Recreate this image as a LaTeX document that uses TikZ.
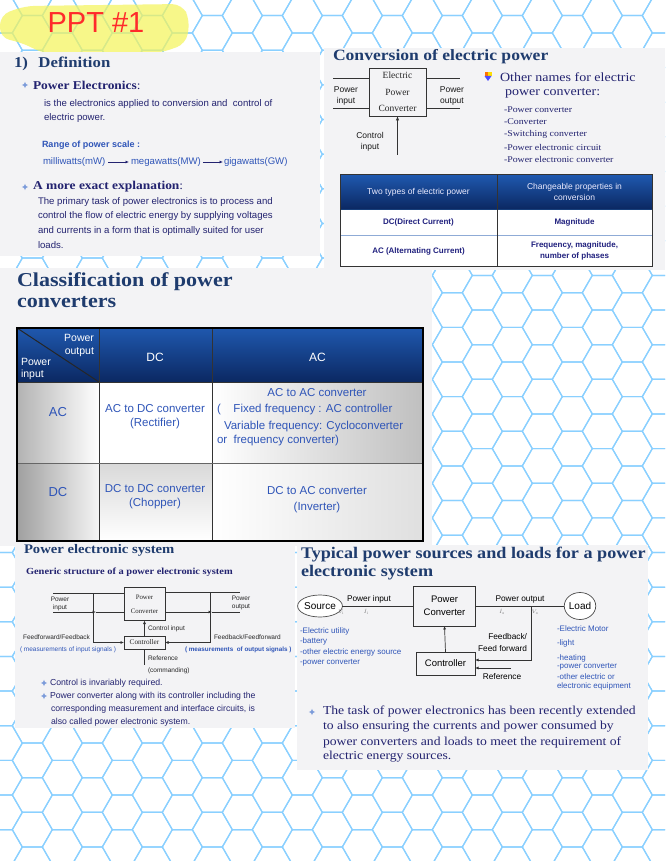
\documentclass[tikz,border=0pt]{standalone}
\usepackage{fontspec}
\setmainfont{Liberation Serif}
\newfontfamily\ars{Liberation Sans}
\newfontfamily\ttl[FakeStretch=1.12]{Liberation Serif}
\usetikzlibrary{arrows.meta,shapes.geometric,calc}
\definecolor{hexc}{HTML}{8AD0FF}
\definecolor{panelc}{HTML}{F3F3F5}
\definecolor{navyT}{HTML}{1F3C6E}
\definecolor{navyD}{HTML}{232370}
\definecolor{blueT}{HTML}{2F55B8}
\definecolor{hdrTop}{HTML}{1F58AE}
\definecolor{hdrBot}{HTML}{0B2862}
\definecolor{bulc}{HTML}{7B9BDA}
\definecolor{redT}{HTML}{FF2B2B}
\definecolor{hlc}{HTML}{F4F45C}
\definecolor{wirec}{HTML}{333333}
\newcommand\fz[2]{\fontsize{#1}{#2}\selectfont}
\begin{document}
\begin{tikzpicture}[x=1pt,y=-1pt,
  every node/.style={inner sep=0pt,outer sep=0pt},
  hexl/.style={draw=hexc,line width=1.2pt},
  panel/.style={fill=panelc},
  wire/.style={draw=wirec,line width=0.9pt},
  arr/.style={wire,-{Latex[length=4.5pt,width=3.5pt]}},
  sarr/.style={wire,line width=0.7pt,-{Latex[length=3.5pt,width=3pt]}},
  bx/.style={draw=wirec,line width=0.9pt},
  bul/.pic={\fill[bulc] (0,-3.2) -- (0.9,-0.9) -- (3.2,0) -- (0.9,0.9) -- (0,3.2) -- (-0.9,0.9) -- (-3.2,0) -- (-0.9,-0.9) -- cycle;},
  hdr/.style={top color=hdrTop,bottom color=hdrBot},
  grid/.style={draw=black!80,line width=1pt},
  bodyS/.style={font=\ars\fz{9.6}{9.6},text=navyD,anchor=west},
  cls/.style={font=\ars\fz{11.5}{11.5},text=blueT},
  tiny/.style={font=\ars\fz{6.5}{6.5},text=black!85},
  lst/.style={anchor=west,font=\ttl\fz{8.8}{8.8},text=navyD},
  par/.style={anchor=west,font=\ttl\fz{12.2}{12.2},text=navyD}
]
\useasboundingbox (0,0) rectangle (665,861);
\fill[white] (0,0) rectangle (665,861);
% honeycomb background
\begin{scope}
\clip (0,0) rectangle (665,861);
\foreach \i in {0,...,23}{
  \foreach \j in {-1,...,25}{
    \pgfmathsetmacro\cx{2.3+30*\i}
    \pgfmathsetmacro\cy{(isodd(\i)?-1.72:15.6)+34.64*\j}
    \draw[hexl] (\cx+20,\cy) -- (\cx+10,\cy+17.32) -- (\cx-10,\cy+17.32) -- (\cx-20,\cy) -- (\cx-10,\cy-17.32) -- (\cx+10,\cy-17.32) -- cycle;
  }
}
\end{scope}
% highlight and handwriting
\fill[hlc,opacity=0.72,rounded corners=10pt] (0,15) -- (25,6) -- (182,4) -- (190,20) -- (186,44) -- (160,53) -- (45,54) -- (20,42) -- (0,38) -- cycle;
\node[text=redT,font=\ars\fz{29}{29}] (ppt) at (96,23) {PPT \#1};
% panels
\fill[panel] (0,52) rectangle (320,256);
\fill[panel] (324,48) rectangle (665,270);
\fill[panel] (0,268) rectangle (432,546);
\fill[panel] (15,543) rectangle (295,728);
\fill[panel] (297,545) rectangle (648,770);

% ---------------- Definition
\node[anchor=west,font=\ttl\bfseries\fz{15}{15},text=navyT] (defh) at (14,64) {1)\hspace{0.7em}Definition};
\pic at (25,85) {bul};
\node[anchor=west,font=\ttl\bfseries\fz{12}{12},text=navyD] (pe) at (33,85) {Power Electronics\mdseries:};
\node[bodyS] (d1) at (44,104) {is the electronics applied to conversion and\ \ control of};
\node[bodyS] (d2) at (44,118) {electric power.};
\node[anchor=west,font=\ars\bfseries\fz{9}{9},text=blueT] (rng) at (42,145) {Range of power scale :};
\node[bodyS,text=blueT] (mw) at (43,162) {milliwatts(mW)};
\node[bodyS,text=blueT] (MW) at (131,162) {megawatts(MW)};
\node[bodyS,text=blueT] (GW) at (224,162) {gigawatts(GW)};
\draw[sarr,draw=navyD] ([xshift=3pt]mw.east) -- ([xshift=-2pt]MW.west);
\draw[sarr,draw=navyD] ([xshift=2pt]MW.east) -- ([xshift=-1pt]GW.west);
\pic at (25,187) {bul};
\node[anchor=west,font=\ttl\bfseries\fz{12}{12},text=navyD] (mx) at (33,187) {A more exact explanation\mdseries:};
\node[bodyS] (e1) at (38,202) {The primary task of power electronics is to process and};
\node[bodyS] (e2) at (38,216.5) {control the flow of electric energy by supplying voltages};
\node[bodyS] (e3) at (38,231) {and currents in a form that is optimally suited for user};
\node[bodyS] (e4) at (38,245.5) {loads.};

% ---------------- Conversion of electric power
\node[anchor=west,font=\ttl\bfseries\fz{15.7}{15.7},text=navyT] (convh) at (333,57) {Conversion of electric power};
\node[bx,minimum width=57pt,minimum height=48pt,align=center,font=\fz{9.5}{16.5},text=black!85] (epc) at (397.5,92) {Electric\\Power\\Converter};
\coordinate (inT) at (333,78); \coordinate (inB) at (333,108);
\coordinate (outT) at (460,78); \coordinate (outB) at (460,108);
\draw[wire] (inT) -- (inT -| epc.west);
\draw[wire] (inB) -- (inB -| epc.west);
\draw[wire] (epc.east |- outT) -- (outT);
\draw[wire] (epc.east |- outB) -- (outB);
\coordinate (ctlIn) at (397.5,155);
\draw[arr] (ctlIn) -- (epc.south);
\node[align=center,font=\ars\fz{8.5}{11},text=black!90] (pin) at (346,95.5) {Power\\input};
\node[align=center,font=\ars\fz{8.5}{11},text=black!90] (pout) at (452,95.5) {Power\\output};
\node[align=center,font=\ars\fz{8.5}{11},text=black!90] (cin) at (370,141.5) {Control\\input};
% coloured bullet icon
\fill[orange!90!red] (484.5,72.5) rectangle (488,76);
\fill[yellow!80!orange] (488,72.5) rectangle (491.5,76);
\fill[blue!70] (484.5,76) -- (491.5,76) -- (488,81) -- cycle;
\node[anchor=west,font=\ttl\fz{12.5}{12.5},text=navyD] (on1) at (500,77) {Other names for electric};
\node[anchor=west,font=\ttl\fz{12.5}{12.5},text=navyD] (on2) at (505,93) {power converter:};
\node[lst] (l1) at (504,110) {-Power converter};
\node[lst] (l2) at (504,122) {-Converter};
\node[lst] (l3) at (504,134.5) {-Switching converter};
\node[lst] (l4) at (504,147) {-Power electronic circuit};
\node[lst] (l5) at (504,159) {-Power electronic converter};
% two types table
\shade[hdr] (340,175) rectangle (652,209);
\fill[white] (340,209) rectangle (652,266);
\draw[draw=hdrTop!70!black,line width=0.8pt] (340,209) -- (652,209);
\draw[draw=hdrTop!50,line width=0.8pt] (340,235) -- (652,235);
\draw[grid] (497,175) -- (497,266);
\draw[grid] (340,175) rectangle (652,266);
\node[font=\ars\fz{8.5}{8.5},text=white!92!blue] (th1) at (418.5,192) {Two types of electric power};
\node[align=center,font=\ars\fz{8.5}{11},text=white!92!blue] (th2) at (574.5,192) {Changeable properties in\\conversion};
\node[font=\ars\bfseries\fz{8}{8},text=navyD!90!blue] (tc1) at (418.5,222) {DC(Direct Current)};
\node[font=\ars\bfseries\fz{8}{8},text=navyD!90!blue] (tc2) at (574.5,222) {Magnitude};
\node[font=\ars\bfseries\fz{8}{8},text=navyD!90!blue] (tc3) at (418.5,251) {AC (Alternating Current)};
\node[align=center,font=\ars\bfseries\fz{8}{10.5},text=navyD!90!blue] (tc4) at (574.5,251) {Frequency, magnitude,\\number of phases};

% ---------------- Classification
\node[anchor=west,font=\ttl\bfseries\fz{19.7}{19.7},text=navyT] (clh1) at (17,282) {Classification of power};
\node[anchor=west,font=\ttl\bfseries\fz{19.7}{19.7},text=navyT] (clh2) at (17,302) {converters};
\shade[hdr] (17,328) rectangle (423,382);
\fill[white] (17,382) rectangle (423,541);
\shade[left color=gray!60,right color=white] (17,382) rectangle (99,463);
\shade[left color=gray!75,right color=gray!8] (17,463) rectangle (99,541);
\shade[left color=white,right color=gray!50] (212,382) rectangle (423,463);
\shade[top color=gray!30,bottom color=white] (99,463) rectangle (212,541);
\shade[left color=white,right color=gray!25] (212,463) rectangle (423,541);
\draw[grid] (99,328) -- (99,541);
\draw[grid] (212,328) -- (212,541);
\draw[grid,draw=black!60] (17,463) -- (423,463);
\draw[grid] (17,382) -- (423,382);
\draw[grid,draw=black!85] (17,328) -- (99,382);
\draw[grid,line width=1.6pt,draw=black] (17,328) rectangle (423,541);
\node[anchor=east,font=\ars\fz{10.5}{10.5},text=white] (ch1) at (94,338) {Power};
\node[anchor=east,font=\ars\fz{10.5}{10.5},text=white] (ch2) at (94,352) {output};
\node[anchor=west,font=\ars\fz{10.5}{10.5},text=white] (ch3) at (21,362) {Power};
\node[anchor=west,font=\ars\fz{10.5}{10.5},text=white] (ch4) at (21,375) {input};
\node[font=\ars\fz{12}{12},text=white] (hdc) at (155,357) {DC};
\node[font=\ars\fz{12}{12},text=white] (hac) at (317.5,357) {AC};
\node[cls,font=\ars\fz{13}{13}] (rac) at (58,412) {AC};
\node[cls] (c11a) at (155,409) {AC to DC converter};
\node[cls] (c11b) at (155,424) {(Rectifier)};
\node[cls] (c12a) at (317,393) {AC to AC converter};
\node[cls,anchor=west] (c12b) at (217,410) {(\hspace{1.1em}Fixed frequency : AC controller};
\node[cls,anchor=west] (c12c) at (224,427) {Variable frequency: Cycloconverter};
\node[cls,anchor=west] (c12d) at (217,441) {or\ \ frequency converter)};
\node[cls,font=\ars\fz{13}{13}] (rdc) at (58,492) {DC};
\node[cls] (c21a) at (155,489) {DC to DC converter};
\node[cls] (c21b) at (155,504) {(Chopper)};
\node[cls] (c22a) at (317,491) {DC to AC converter};
\node[cls] (c22b) at (317,508) {(Inverter)};

% ---------------- Power electronic system
\node[anchor=west,font=\ttl\bfseries\fz{13.1}{13.1},text=navyT] (pesh) at (24,550) {Power electronic system};
\node[anchor=west,font=\ttl\bfseries\fz{9.3}{9.3},text=navyD] (gen) at (26,572) {Generic structure of a power electronic system};
\node[bx,line width=0.7pt,minimum width=41pt,minimum height=33pt,align=center,font=\fz{6.8}{14},text=black!85] (pc1) at (144.5,604) {Power\\Converter};
\node[bx,line width=0.7pt,minimum width=41pt,minimum height=13pt,font=\fz{7.2}{7.2},text=black!85] (ctl1) at (144.5,642.5) {Controller};
\coordinate (pinT) at (53,593); \coordinate (pinB) at (53,612);
\coordinate (poT) at (240,592); \coordinate (poB) at (240,612);
\coordinate (jLB) at (96,612); \coordinate (jRB) at (212,612);
\coordinate (fbL) at (93,593); \coordinate (fbR) at (210,592);
\coordinate (refP) at (144.5,665);
\draw[wire,line width=0.7pt] (pinT) -- (pinT -| pc1.west);
\draw[sarr] (pinB) -- (jLB);
\draw[wire,line width=0.7pt] (jLB) -- (jLB -| pc1.west);
\draw[wire,line width=0.7pt] (pc1.east |- poT) -- (poT);
\draw[sarr] (pc1.east |- poB) -- (jRB);
\draw[wire,line width=0.7pt] (jRB) -- (poB);
\draw[sarr] (fbL) |- (ctl1.west);
\draw[sarr] (fbR) |- (ctl1.east);
\draw[sarr] (ctl1.north) -- (pc1.south);
\draw[wire,line width=0.7pt] (ctl1.south) -- (refP);
\node[align=center,tiny] (pes1) at (60,604) {Power\\[1pt]input};
\node[align=center,tiny] (pes2) at (241,603) {Power\\[1pt]output};
\node[anchor=west,tiny] (pes3) at (148,629) {Control input};
\node[anchor=east,tiny] (pes4) at (90,637) {Feedforward/Feedback};
\node[anchor=west,tiny,text=blueT] (pes5) at (20,650) {( measurements of input signals )};
\node[anchor=west,tiny] (pes6) at (214,637) {Feedback/Feedforward};
\node[anchor=west,tiny,font=\ars\bfseries\fz{6.3}{6.3},text=blueT] (pes7) at (185,650) {( measurements\ \ of output signals )};
\node[anchor=west,tiny] (pes8) at (148,658) {Reference};
\node[anchor=west,tiny] (pes9) at (148,671) {(commanding)};
\pic at (44,683) {bul};
\node[bodyS,font=\ars\fz{8.7}{8.7}] (b1) at (50,683) {Control is invariably required.};
\pic at (44,696) {bul};
\node[bodyS,font=\ars\fz{8.7}{8.7}] (b2) at (50,696) {Power converter along with its controller including the};
\node[bodyS,font=\ars\fz{8.7}{8.7}] (b3) at (51,709.5) {corresponding measurement and interface circuits, is};
\node[bodyS,font=\ars\fz{8.7}{8.7}] (b4) at (51,722) {also called power electronic system.};

% ---------------- Typical power sources and loads
\node[anchor=west,font=\ttl\bfseries\fz{16.2}{16.2},text=navyT] (tph1) at (301,555) {Typical power sources and loads for a power};
\node[anchor=west,font=\ttl\bfseries\fz{16.2}{16.2},text=navyT] (tph2) at (301,573) {electronic system};
\node[draw=black!70,line width=0.7pt,ellipse,fill=white,minimum width=38pt,minimum height=22pt,font=\ars\fz{10}{10}] (src) at (320,606) {Source};
\node[draw=black!70,line width=0.7pt,ellipse,fill=white,minimum width=31pt,minimum height=27pt,font=\ars\fz{10}{10}] (load) at (580,606) {Load};
\node[bx,minimum width=62pt,minimum height=40pt,align=center,font=\ars\fz{9.5}{13}] (pc2) at (444.5,606) {Power\\Converter};
\node[bx,minimum width=59pt,minimum height=23pt,font=\ars\fz{9.5}{9.5}] (ctl2) at (445.5,663.5) {Controller};
\draw[wire] (src.east) -- (pc2.west);
\draw[wire] (pc2.east) -- (load.west);
\coordinate (fbj) at (531,606);
\coordinate (refS) at (511,668);
\draw[sarr] (fbj) |- ($(ctl2.east)+(0,-3.5)$);
\draw[sarr] (refS) -- (refS -| ctl2.east);
\draw[sarr] (ctl2.north) -- (pc2.south);
\node[font=\ars\fz{8.3}{8.3}] (tpi) at (369,599) {Power input};
\node[font=\ars\fz{8.3}{8.3}] (tpo) at (520,599) {Power output};
\node[font=\fz{5.5}{5.5},text=black!55] (vi) at (341,612) {$V_{\mathrm i}$};
\node[font=\fz{5.5}{5.5},text=black!55] (ii) at (366,612) {$\dot I_{\mathrm i}$};
\node[font=\fz{5.5}{5.5},text=black!55] (io) at (502,612) {$\dot I_{\mathrm o}$};
\node[font=\fz{5.5}{5.5},text=black!55] (vo) at (535,612) {$V_{\mathrm o}$};
\node[anchor=east,font=\ars\fz{8.3}{8.3}] (fb1) at (527,637) {Feedback/};
\node[anchor=east,font=\ars\fz{8.3}{8.3}] (fb2) at (527,648.5) {Feed forward};
\node[font=\ars\fz{8.3}{8.3}] (rf) at (502,677) {Reference};
\node[anchor=west,font=\ars\fz{8}{8},text=blueT] (s1) at (300,631) {-Electric utility};
\node[anchor=west,font=\ars\fz{8}{8},text=blueT] (s2) at (300,641.5) {-battery};
\node[anchor=west,font=\ars\fz{8}{8},text=blueT] (s3) at (300,652) {-other electric energy source};
\node[anchor=west,font=\ars\fz{8}{8},text=blueT] (s4) at (300,662.5) {-power converter};
\node[anchor=west,font=\ars\fz{8}{8},text=blueT] (ld1) at (557,629) {-Electric Motor};
\node[anchor=west,font=\ars\fz{8}{8},text=blueT] (ld2) at (557,643.5) {-light};
\node[anchor=west,font=\ars\fz{8}{8},text=blueT] (ld3) at (557,658) {-heating};
\node[anchor=west,font=\ars\fz{8}{8},text=blueT] (ld4) at (557,667) {-power converter};
\node[anchor=west,font=\ars\fz{8}{8},text=blueT] (ld5) at (557,676.5) {-other electric or};
\node[anchor=west,font=\ars\fz{8}{8},text=blueT] (ld6) at (557,686) {electronic equipment};
\pic at (312,712) {bul};
\node[par] (p1) at (323,712) {The task of power electronics has been recently extended};
\node[par] (p2) at (323,727) {to also ensuring the currents and power consumed by};
\node[par] (p3) at (323,742) {power converters and loads to meet the requirement of};
\node[par] (p4) at (323,757) {electric energy sources.};
\end{tikzpicture}
\end{document}
